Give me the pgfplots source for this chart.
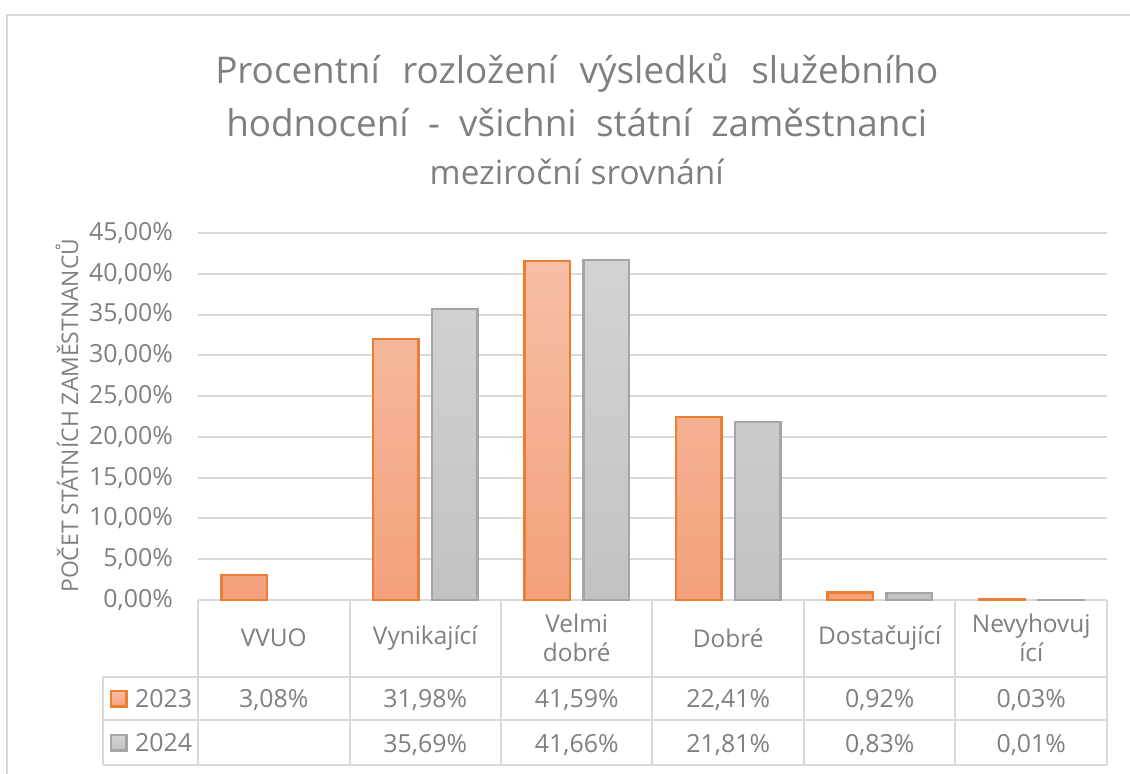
\documentclass[border=0pt]{standalone}
\usepackage{fontspec}
\setmainfont{Open Sans}
\usepackage{pgfplots}
\usepackage{pgfplotstable}
\pgfplotsset{compat=1.18}
\definecolor{txt}{HTML}{7F7F7F}
\definecolor{gridc}{HTML}{D9D9D9}
\definecolor{oBorder}{HTML}{ED7D31}
\definecolor{oTop}{HTML}{F6BEA5}
\definecolor{oBot}{HTML}{F4A17C}
\definecolor{gBorder}{HTML}{A5A5A5}
\definecolor{gTop}{HTML}{D3D3D3}
\definecolor{gBot}{HTML}{C2C2C2}
\pgfplotstableread{
x val
0 3.08
1 31.98
2 41.59
3 22.41
4 0.92
5 0.03
}\tabA
\pgfplotstableread{
x val
1 35.69
2 41.66
3 21.81
4 0.83
5 0.01
}\tabB
\pgfplotsset{
  sqkey/.style={legend image code/.code={%
    \path[draw=none, fill=none, shade=none] (0bp,0bp) -- (32bp,0bp);
    \draw[##1, line width=2.5bp] (7.75bp,-7.75bp) rectangle (23.25bp,7.75bp);}},
}
\begin{document}
\begin{tikzpicture}
\begin{axis}[
  scale only axis, width=909bp, height=367bp,
  xmin=-0.5, xmax=5.5, ymin=0, ymax=45,
  clip=false,
  axis line style={draw=none},
  major tick length=0pt,
  ytick={0,5,...,45},
  xtick={0,...,5},
  xticklabels={VVUO,Vynikající,{Velmi\\dobré},Dobré,Dostačující,{Nevyhovuj\\ící}},
  ymajorgrids, major grid style={draw=gridc, line width=2bp},
  /pgf/number format/assume math mode=true,
  yticklabel={\pgfmathprintnumber[fixed,fixed zerofill,precision=2,use comma]{\tick}\%},
  yticklabel style={font=\fontsize{25}{28}\selectfont, text=txt, anchor=east, inner sep=0pt, xshift=-25bp},
  xticklabel style={font=\fontsize{24.5}{29}\selectfont, text=txt, align=center, anchor=center, inner sep=0pt, yshift=-38bp},
  legend style={at={(axis cs:-1.127,-9.44)}, anchor=north west, draw=none, fill=none, inner sep=0pt, outer sep=0pt,
    font=\fontsize{25}{28}\selectfont, text=txt, row sep=0pt, column sep=0pt,
    nodes={inner sep=0pt, minimum height=44bp, text height=18bp, text depth=0bp}},
  legend cell align=left,
]
\addplot[ybar, bar width=0.30, bar shift=-0.195, draw=oBorder, line width=2.5bp, top color=oTop, bottom color=oBot, sqkey]
  table[x=x,y=val]{\tabA};
\addlegendentry{2023}
\addplot[ybar, bar width=0.30, bar shift=0.195, draw=gBorder, line width=2.5bp, top color=gTop, bottom color=gBot, sqkey]
  table[x=x,y=val]{\tabB};
\addlegendentry{2024}
% table values
\addplot[forget plot, draw=none, point meta=explicit,
  nodes near coords={\pgfmathprintnumber[fixed,fixed zerofill,precision=2,use comma]{\pgfplotspointmeta}\%},
  nodes near coords style={anchor=base, font=\fontsize{25}{28}\selectfont, text=txt, inner sep=0pt}]
  table[x=x, y expr=-13.24, meta=val]{\tabA};
\addplot[forget plot, draw=none, point meta=explicit,
  nodes near coords={\pgfmathprintnumber[fixed,fixed zerofill,precision=2,use comma]{\pgfplotspointmeta}\%},
  nodes near coords style={anchor=base, font=\fontsize{25}{28}\selectfont, text=txt, inner sep=0pt}]
  table[x=x, y expr=-18.76, meta=val]{\tabB};
% table grid
\draw[gridc, line width=2bp] (axis cs:-0.5,0) -- (axis cs:-0.5,-20.23);
\draw[gridc, line width=2bp] (axis cs:0.5,0) -- (axis cs:0.5,-20.23);
\draw[gridc, line width=2bp] (axis cs:1.5,0) -- (axis cs:1.5,-20.23);
\draw[gridc, line width=2bp] (axis cs:2.5,0) -- (axis cs:2.5,-20.23);
\draw[gridc, line width=2bp] (axis cs:3.5,0) -- (axis cs:3.5,-20.23);
\draw[gridc, line width=2bp] (axis cs:4.5,0) -- (axis cs:4.5,-20.23);
\draw[gridc, line width=2bp] (axis cs:5.5,0) -- (axis cs:5.5,-20.23);
\draw[gridc, line width=2bp] (axis cs:-1.127,-9.44) -- (axis cs:5.5,-9.44);
\draw[gridc, line width=2bp] (axis cs:-1.127,-14.71) -- (axis cs:5.5,-14.71);
\draw[gridc, line width=2bp] (axis cs:-1.127,-20.23) -- (axis cs:5.5,-20.23);
\draw[gridc, line width=2bp] (axis cs:-1.127,-9.44) -- (axis cs:-1.127,-20.23);
% outer frame
\draw[gridc, line width=2.5bp] (axis cs:-1.761,-21.5) -- (axis cs:-1.761,71.73) -- (axis cs:5.7,71.73);
% titles
\node[anchor=base, inner sep=0pt, font=\fontsize{37}{37}\selectfont, text=txt] at (axis cs:2.0,63.39) {\makebox[723bp][s]{Procentní rozložení výsledků služebního}};
\node[anchor=base, inner sep=0pt, font=\fontsize{37}{37}\selectfont, text=txt] at (axis cs:2.0,56.89) {\makebox[701bp][s]{hodnocení - všichni státní zaměstnanci}};
\node[anchor=base, inner sep=0pt, font=\fontsize{33.5}{33.5}\selectfont, text=txt] at (axis cs:2.0,50.9) {\makebox[294bp][s]{meziroční srovnání}};
\node[rotate=90, inner sep=0pt, font=\fontsize{23}{23}\selectfont, text=txt] at (axis cs:-1.365,22.6) {POČET STÁTNÍCH ZAMĚSTNANCŮ};
\coordinate (BL) at (axis cs:-1.807,-21.33);
\coordinate (TR) at (axis cs:5.652,73.57);
\end{axis}
\pgfresetboundingbox
\path[use as bounding box] (BL) rectangle (TR);
\end{tikzpicture}
\end{document}
